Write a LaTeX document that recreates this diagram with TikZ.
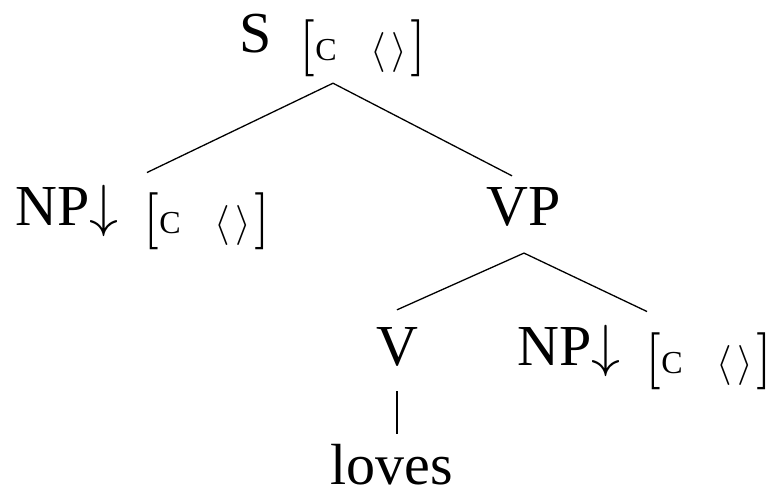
\RequirePackage{fix-cm}
\documentclass[tikz,border=0pt]{standalone}
\usepackage{fontspec}
\setmainfont{Liberation Serif}
\newfontfamily\lmten{lmroman10-regular.otf}
\newcommand\brk[1]{\raisebox{-10.75pt}{\lmten\fontsize{57}{57}\selectfont #1}}
\newcommand\ang[1]{\raisebox{-10pt}{\fontsize{40}{40}\selectfont$#1$}}
\newcommand\featbox{\brk{[}\hspace{0.3pt}\raisebox{-8pt}{\fontsize{32}{32}\selectfont C}\hspace{34pt}\ang{\langle}\hspace{5pt}\ang{\rangle}\hspace{4pt}\brk{]}}
\tikzset{
  treenode/.style={font=\fontsize{58}{64}\selectfont, inner sep=0pt, anchor=base},
  edge/.style={line width=1.3pt}
}
\begin{document}
\begin{tikzpicture}[x=1pt,y=-1pt]
\useasboundingbox (0,0) rectangle (772,496);
\node[treenode] (S) at (333,52) {S\hspace{27.7pt}\featbox};
\node[treenode] (NPa) at (143,225) {NP$\downarrow$\hspace{25pt}\featbox};
\node[treenode] (VP) at (524,225) {VP};
\node[treenode] (V) at (397,365) {V};
\node[treenode] (NPb) at (645,365) {NP$\downarrow$\hspace{25pt}\featbox};
\node[treenode] (W) at (392,484) {loves};
\coordinate (Sb) at ([yshift=-6pt]S.south);
\coordinate (VPb) at ([yshift=-27pt]VP.south);
\draw[edge] (Sb) -- ([shift={(4pt,12pt)}]NPa.north);
\draw[edge] (Sb) -- ([shift={(-12pt,11pt)}]VP.north);
\draw[edge] (VPb) -- ([yshift=17pt]V.north);
\draw[edge] (VPb) -- ([shift={(2pt,13pt)}]NPb.north);
\draw[edge] ([yshift=-25pt]V.south) -- ([yshift=10pt]V.south |- W.north);
\end{tikzpicture}
\end{document}
